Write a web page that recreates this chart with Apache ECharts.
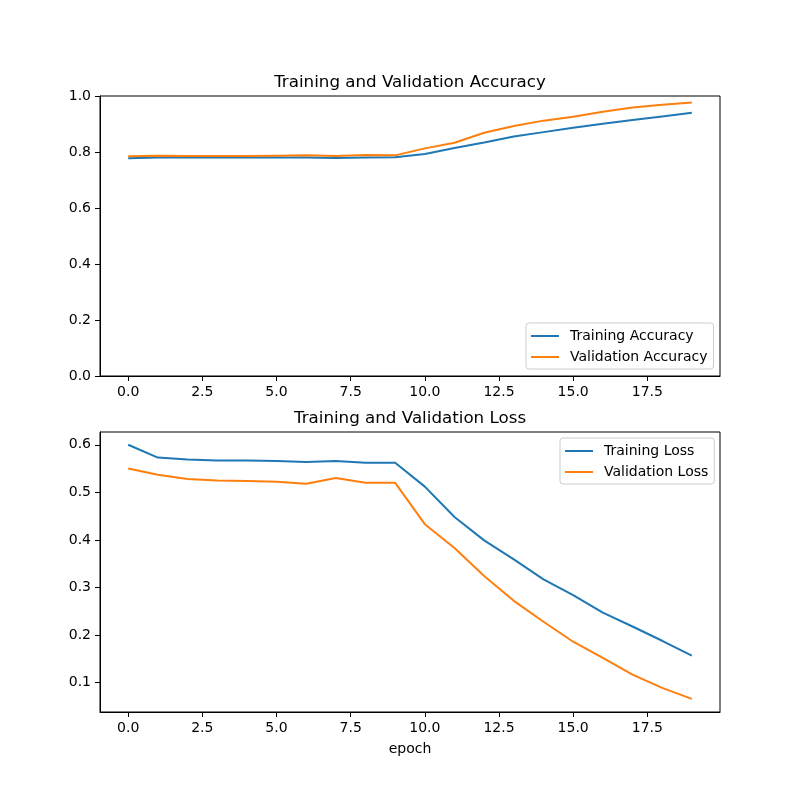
<!DOCTYPE html>
<html>
<head>
<meta charset="utf-8">
<script src="https://cdn.jsdelivr.net/npm/echarts@6/dist/echarts.min.js"></script>
<style>
  html, body { margin: 0; padding: 0; background: #fff; }
  #chart { width: 800px; height: 800px; }
</style>
</head>
<body>
<div id="chart"></div>
<script>
// epochs on the x axis
const epochs = [0, 1, 2, 3, 4, 5, 6, 7, 8, 9, 10, 11, 12, 13, 14, 15, 16, 17, 18, 19];
const trainAcc = [0.778, 0.780, 0.780, 0.780, 0.780, 0.780, 0.780, 0.779, 0.780, 0.781,
  0.793, 0.814, 0.834, 0.855, 0.871, 0.887, 0.901, 0.914, 0.927, 0.940];
const valAcc = [0.785, 0.787, 0.786, 0.786, 0.786, 0.787, 0.788, 0.786, 0.789, 0.788,
  0.813, 0.833, 0.869, 0.893, 0.912, 0.926, 0.944, 0.959, 0.969, 0.977];
const trainLoss = [0.600, 0.573, 0.569, 0.567, 0.567, 0.566, 0.564, 0.566, 0.562, 0.562,
  0.512, 0.448, 0.399, 0.359, 0.317, 0.284, 0.247, 0.218, 0.188, 0.157];
const valLoss = [0.550, 0.537, 0.528, 0.525, 0.524, 0.522, 0.518, 0.530, 0.520, 0.520,
  0.433, 0.383, 0.324, 0.272, 0.228, 0.186, 0.152, 0.117, 0.089, 0.066];
// tick labels
const xTicks = [0, 2.5, 5, 7.5, 10, 12.5, 15, 17.5];
const lossTicks = [0.1, 0.2, 0.3, 0.4, 0.5, 0.6];

const blue = "#1f77b4";
const orange = "#ff7f0e";
const font = "DejaVu Sans";

const pairs = (ys) => epochs.map((x, i) => [x, ys[i]]);

function xAxisFor(gridIndex, withName) {
  return {
    type: "value",
    gridIndex: gridIndex,
    min: -0.95,
    max: 19.95,
    name: withName ? "epoch" : "",
    nameLocation: "middle",
    nameGap: 30,
    nameTextStyle: { color: "#000", fontSize: 14, fontFamily: font },
    splitLine: { show: false },
    axisLine: { show: true, onZero: false, lineStyle: { color: "#000", width: 1 } },
    axisTick: { show: true, length: 5, customValues: xTicks, lineStyle: { color: "#000" } },
    axisLabel: {
      customValues: xTicks,
      margin: 9,
      color: "#000",
      fontSize: 14,
      fontFamily: font,
      formatter: (v) => v.toFixed(1),
    },
  };
}

const yBase = {
  type: "value",
  splitLine: { show: false },
  axisLine: { show: true, onZero: false, lineStyle: { color: "#000", width: 1 } },
  axisLabel: { margin: 9, color: "#000", fontSize: 14, fontFamily: font, formatter: (v) => v.toFixed(1) },
};

function lineSeries(name, data, color, xi, yi) {
  return {
    name: name,
    type: "line",
    xAxisIndex: xi,
    yAxisIndex: yi,
    data: pairs(data),
    showSymbol: false,
    symbol: "none",
    lineStyle: { color: color, width: 2 },
    itemStyle: { color: color },
  };
}

function legendAt(left, top, names) {
  return {
    orient: "vertical",
    left: left,
    top: top,
    data: names,
    icon: "rect",
    itemWidth: 28,
    itemHeight: 2,
    itemGap: 7,
    padding: [6, 6, 5, 5],
    backgroundColor: "rgba(255,255,255,0.8)",
    borderColor: "#cccccc",
    borderWidth: 1,
    borderRadius: 3,
    textStyle: { color: "#000", fontSize: 14, fontFamily: font, padding: [0, 0, 0, 6] },
  };
}

const chart = echarts.init(document.getElementById("chart"), null, { renderer: "canvas" });
chart.setOption({
  animation: false,
  backgroundColor: "#fff",
  graphic: [
    { type: "text", x: 410, y: 83, style: { text: "Training and Validation Accuracy", fill: "#000",
      font: "16.7px " + font, textAlign: "center", textVerticalAlign: "middle" } },
    { type: "text", x: 410, y: 419, style: { text: "Training and Validation Loss", fill: "#000",
      font: "16.7px " + font, textAlign: "center", textVerticalAlign: "middle" } },
  ],
  grid: [
    { left: 100, top: 96, width: 620, height: 280, show: true, borderColor: "#000", borderWidth: 1 },
    { left: 100, top: 432, width: 620, height: 280, show: true, borderColor: "#000", borderWidth: 1 },
  ],
  xAxis: [xAxisFor(0, false), xAxisFor(1, true)],
  yAxis: [
    Object.assign({}, yBase, { gridIndex: 0, min: 0, max: 1, interval: 0.2,
      axisTick: { show: true, length: 5, lineStyle: { color: "#000" } } }),
    Object.assign({}, yBase, { gridIndex: 1, min: 0.0383, max: 0.6268,
      axisTick: { show: true, length: 5, customValues: lossTicks, lineStyle: { color: "#000" } },
      axisLabel: Object.assign({}, yBase.axisLabel, { customValues: lossTicks }) }),
  ],
  legend: [
    legendAt(526, 323, ["Training Accuracy", "Validation Accuracy"]),
    legendAt(560, 438, ["Training Loss", "Validation Loss"]),
  ],
  series: [
    lineSeries("Training Accuracy", trainAcc, blue, 0, 0),
    lineSeries("Validation Accuracy", valAcc, orange, 0, 0),
    lineSeries("Training Loss", trainLoss, blue, 1, 1),
    lineSeries("Validation Loss", valLoss, orange, 1, 1),
  ],
});
</script>
</body>
</html>
